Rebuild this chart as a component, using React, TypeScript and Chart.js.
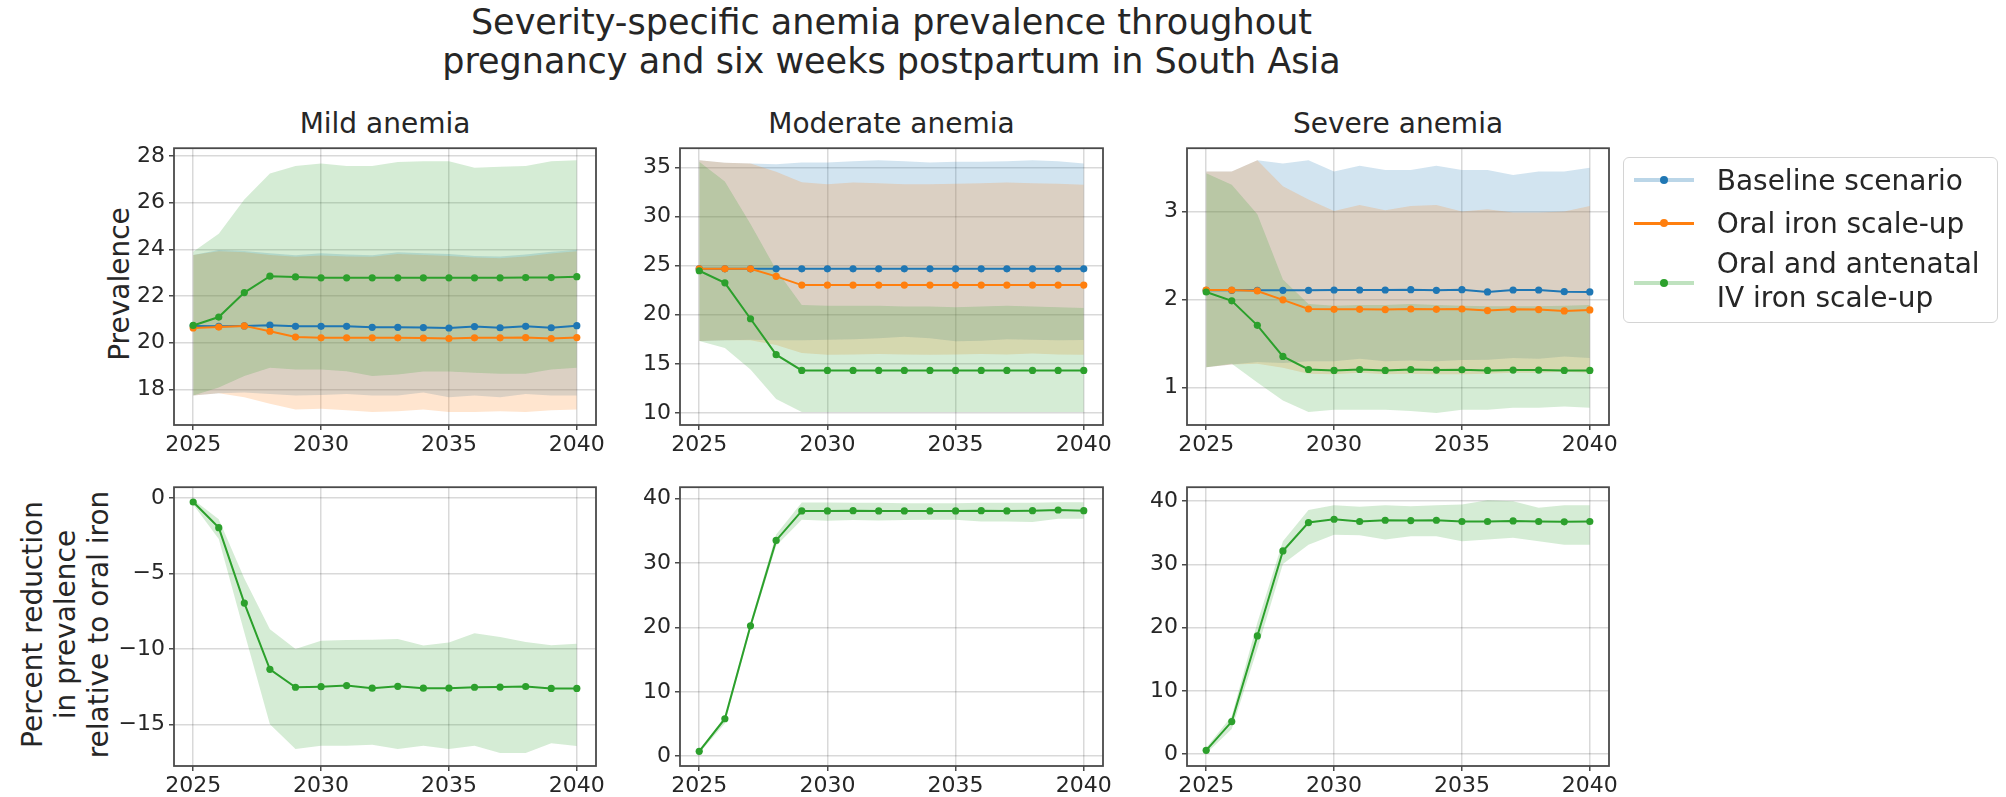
import React, { useEffect, useRef } from "react";
import { Chart, registerables } from "chart.js";

Chart.register(...registerables);

// ---------------------------------------------------------------------------
// Data
// ---------------------------------------------------------------------------
const years = [2025, 2026, 2027, 2028, 2029, 2030, 2031, 2032, 2033, 2034, 2035, 2036, 2037, 2038, 2039, 2040];
const yearTicks = [2025, 2030, 2035, 2040];

const seriesNames = ["Baseline scenario", "Oral iron scale-up", "Oral and antenatal\nIV iron scale-up"];
const seriesColors = ["#1f77b4", "#ff7f0e", "#2ca02c"];

const panelTitles = ["Mild anemia", "Moderate anemia", "Severe anemia"];
const mainTitle = ["Severity-specific anemia prevalence throughout", "pregnancy and six weeks postpartum in South Asia"];
const prevalenceLabel = "Prevalence";
const reductionLabel = ["Percent reduction", "in prevalence", "relative to oral iron"];

// Mild anemia prevalence
const mildTicks = [18, 20, 22, 24, 26, 28];
const mildBaseline = [20.72, 20.70, 20.72, 20.75, 20.70, 20.70, 20.70, 20.66, 20.66, 20.65, 20.63, 20.69, 20.64, 20.70, 20.64, 20.73];
const mildBaselineLow = [17.73, 17.83, 17.86, 17.80, 17.73, 17.76, 17.80, 17.73, 17.73, 17.86, 17.66, 17.73, 17.66, 17.80, 17.73, 17.73];
const mildBaselineHigh = [23.76, 23.97, 23.93, 23.83, 23.75, 23.83, 23.78, 23.75, 23.88, 23.83, 23.80, 23.72, 23.70, 23.78, 23.90, 23.97];
const mildOral = [20.63, 20.67, 20.72, 20.49, 20.24, 20.21, 20.21, 20.21, 20.21, 20.20, 20.18, 20.21, 20.21, 20.22, 20.18, 20.22];
const mildOralLow = [17.73, 17.83, 17.66, 17.38, 17.13, 17.17, 17.10, 17.03, 17.06, 17.13, 17.03, 17.03, 17.06, 17.03, 17.10, 17.13];
const mildOralHigh = [23.76, 23.92, 23.88, 23.76, 23.68, 23.74, 23.70, 23.68, 23.80, 23.76, 23.72, 23.65, 23.62, 23.70, 23.82, 23.92];
const mildIV = [20.74, 21.10, 22.15, 22.85, 22.82, 22.78, 22.78, 22.78, 22.78, 22.78, 22.78, 22.78, 22.78, 22.79, 22.79, 22.83];
const mildIVLow = [17.73, 18.08, 18.57, 18.92, 18.85, 18.85, 18.78, 18.57, 18.64, 18.76, 18.76, 18.71, 18.67, 18.67, 18.85, 18.92];
const mildIVHigh = [23.90, 24.67, 26.14, 27.26, 27.58, 27.68, 27.58, 27.58, 27.75, 27.78, 27.78, 27.50, 27.54, 27.58, 27.78, 27.82];

// Moderate anemia prevalence
const moderateTicks = [10, 15, 20, 25, 30, 35];
const moderateBaseline = [24.68, 24.68, 24.68, 24.68, 24.68, 24.68, 24.68, 24.68, 24.68, 24.68, 24.68, 24.68, 24.68, 24.68, 24.68, 24.68];
const moderateBaselineLow = [17.32, 17.40, 17.45, 17.40, 17.40, 17.45, 17.50, 17.60, 17.76, 17.60, 17.30, 17.35, 17.50, 17.45, 17.40, 17.42];
const moderateBaselineHigh = [35.73, 35.47, 35.40, 35.33, 35.50, 35.50, 35.63, 35.73, 35.63, 35.50, 35.57, 35.57, 35.63, 35.73, 35.63, 35.40];
const moderateOral = [24.68, 24.68, 24.68, 23.91, 23.02, 23.02, 23.02, 23.02, 23.02, 23.02, 23.02, 23.02, 23.02, 23.02, 23.02, 23.02];
const moderateOralLow = [17.32, 17.40, 17.40, 16.92, 16.09, 15.93, 15.96, 16.00, 15.96, 15.93, 15.96, 16.00, 15.96, 16.05, 15.96, 15.93];
const moderateOralHigh = [35.73, 35.47, 35.40, 34.57, 33.50, 33.30, 33.47, 33.40, 33.30, 33.30, 33.33, 33.40, 33.47, 33.40, 33.33, 33.24];
const moderateIV = [24.48, 23.25, 19.59, 15.93, 14.33, 14.33, 14.33, 14.33, 14.33, 14.33, 14.33, 14.33, 14.33, 14.33, 14.33, 14.33];
const moderateIVLow = [17.32, 16.60, 14.43, 11.43, 10.10, 10.10, 10.10, 10.10, 10.10, 10.10, 10.10, 10.10, 10.10, 10.10, 10.10, 10.10];
const moderateIVHigh = [35.57, 33.57, 29.24, 24.58, 20.99, 20.92, 20.92, 20.92, 20.85, 20.85, 20.75, 20.85, 20.92, 20.85, 20.75, 20.69];

// Severe anemia prevalence
const severeTicks = [1, 2, 3];
const severeBaseline = [2.104, 2.104, 2.104, 2.104, 2.104, 2.108, 2.108, 2.108, 2.112, 2.104, 2.112, 2.086, 2.108, 2.108, 2.089, 2.086];
const severeBaselineLow = [1.230, 1.260, 1.290, 1.279, 1.297, 1.297, 1.327, 1.297, 1.305, 1.297, 1.312, 1.316, 1.335, 1.327, 1.353, 1.335];
const severeBaselineHigh = [3.454, 3.454, 3.584, 3.546, 3.584, 3.454, 3.520, 3.472, 3.472, 3.520, 3.472, 3.472, 3.416, 3.454, 3.454, 3.498];
const severeOral = [2.108, 2.108, 2.097, 1.996, 1.892, 1.888, 1.888, 1.885, 1.892, 1.888, 1.892, 1.874, 1.888, 1.885, 1.870, 1.881];
const severeOralLow = [1.230, 1.260, 1.268, 1.223, 1.156, 1.149, 1.167, 1.149, 1.156, 1.149, 1.149, 1.156, 1.167, 1.167, 1.178, 1.167];
const severeOralHigh = [3.454, 3.454, 3.584, 3.286, 3.138, 3.007, 3.074, 3.015, 3.063, 3.074, 3.000, 3.026, 2.989, 2.989, 3.000, 3.063];
const severeIV = [2.085, 1.985, 1.706, 1.353, 1.204, 1.193, 1.204, 1.193, 1.204, 1.197, 1.201, 1.193, 1.197, 1.197, 1.193, 1.193];
const severeIVLow = [1.230, 1.268, 1.056, 0.851, 0.721, 0.747, 0.747, 0.747, 0.732, 0.710, 0.747, 0.747, 0.770, 0.770, 0.784, 0.770];
const severeIVHigh = [3.435, 3.305, 2.970, 2.227, 1.948, 1.929, 1.937, 1.937, 1.948, 1.937, 1.929, 1.922, 1.922, 1.922, 1.929, 1.937];

// Percent reduction relative to oral iron (IV scale-up)
const mildReductionTicks = [-15, -10, -5, 0];
const mildReduction = [-0.26, -1.96, -6.96, -11.35, -12.54, -12.50, -12.43, -12.60, -12.48, -12.60, -12.60, -12.54, -12.53, -12.49, -12.62, -12.62];
const mildReductionLow = [-0.43, -2.72, -8.91, -15.00, -16.63, -16.41, -16.41, -16.35, -16.63, -16.41, -16.63, -16.41, -16.90, -16.90, -16.26, -16.43];
const mildReductionHigh = [-0.10, -1.41, -5.33, -8.70, -10.00, -9.46, -9.41, -9.39, -9.35, -9.78, -9.57, -8.96, -9.21, -9.54, -9.75, -9.65];

const moderateReductionTicks = [0, 10, 20, 30, 40];
const moderateReduction = [0.76, 5.82, 20.25, 33.50, 38.08, 38.08, 38.13, 38.08, 38.08, 38.08, 38.08, 38.13, 38.08, 38.13, 38.23, 38.13];
const moderateReductionLow = [0.50, 5.06, 19.75, 32.66, 36.71, 36.56, 36.66, 36.61, 36.66, 36.71, 36.71, 36.46, 36.46, 36.35, 36.86, 36.86];
const moderateReductionHigh = [1.00, 6.08, 20.76, 34.43, 39.39, 39.39, 39.34, 39.34, 39.29, 39.29, 39.29, 39.34, 39.34, 39.34, 39.44, 39.44];

const severeReductionTicks = [0, 10, 20, 30, 40];
const severeReduction = [0.62, 5.16, 18.68, 32.10, 36.59, 37.11, 36.75, 36.95, 36.90, 36.95, 36.75, 36.75, 36.85, 36.75, 36.70, 36.75];
const severeReductionLow = [0.10, 3.97, 16.61, 30.04, 33.08, 34.68, 34.58, 33.91, 34.43, 34.43, 33.65, 33.91, 34.17, 33.65, 33.08, 33.08];
const severeReductionHigh = [1.03, 6.04, 20.75, 33.65, 38.55, 39.33, 39.07, 39.33, 39.17, 39.33, 39.43, 40.10, 39.95, 38.92, 39.33, 39.33];

// ---------------------------------------------------------------------------
// Layout and style
// ---------------------------------------------------------------------------
const FONT = "'DejaVu Sans', 'Liberation Sans', sans-serif";
const TEXT_COLOR = "#262626";
const GRID_COLOR = "rgba(0,0,0,0.15)";
const FRAME_COLOR = "#4a4a4a";
const TICK_FONT = 22;

const Y_BOX = 80; // width reserved for the y tick labels
const X_BOX = 45; // height reserved for the x tick labels
const PAD_TOP = 12;
const PAD_RIGHT = 30;

type Series = { mean: number[]; low: number[]; high: number[]; colorIndex: number };
type PanelSpec = {
  frame: { left: number; top: number; right: number; bottom: number };
  yMin: number;
  yMax: number;
  yTicks: number[];
  series: Series[];
};

const topRow = { top: 143, bottom: 425 };
const bottomRow = { top: 482, bottom: 766 };
const columns = [
  { left: 174, right: 596 },
  { left: 680, right: 1103 },
  { left: 1187, right: 1609 },
];

const panels: PanelSpec[] = [
  {
    frame: { ...columns[0], ...topRow },
    yMin: 16.47,
    yMax: 28.34,
    yTicks: mildTicks,
    series: [
      { mean: mildBaseline, low: mildBaselineLow, high: mildBaselineHigh, colorIndex: 0 },
      { mean: mildOral, low: mildOralLow, high: mildOralHigh, colorIndex: 1 },
      { mean: mildIV, low: mildIVLow, high: mildIVHigh, colorIndex: 2 },
    ],
  },
  {
    frame: { ...columns[1], ...topRow },
    yMin: 8.77,
    yMax: 36.96,
    yTicks: moderateTicks,
    series: [
      { mean: moderateBaseline, low: moderateBaselineLow, high: moderateBaselineHigh, colorIndex: 0 },
      { mean: moderateOral, low: moderateOralLow, high: moderateOralHigh, colorIndex: 1 },
      { mean: moderateIV, low: moderateIVLow, high: moderateIVHigh, colorIndex: 2 },
    ],
  },
  {
    frame: { ...columns[2], ...topRow },
    yMin: 0.573,
    yMax: 3.72,
    yTicks: severeTicks,
    series: [
      { mean: severeBaseline, low: severeBaselineLow, high: severeBaselineHigh, colorIndex: 0 },
      { mean: severeOral, low: severeOralLow, high: severeOralHigh, colorIndex: 1 },
      { mean: severeIV, low: severeIVLow, high: severeIVHigh, colorIndex: 2 },
    ],
  },
  {
    frame: { ...columns[0], ...bottomRow },
    yMin: -17.76,
    yMax: 0.72,
    yTicks: mildReductionTicks,
    series: [{ mean: mildReduction, low: mildReductionLow, high: mildReductionHigh, colorIndex: 2 }],
  },
  {
    frame: { ...columns[1], ...bottomRow },
    yMin: -1.52,
    yMax: 41.77,
    yTicks: moderateReductionTicks,
    series: [{ mean: moderateReduction, low: moderateReductionLow, high: moderateReductionHigh, colorIndex: 2 }],
  },
  {
    frame: { ...columns[2], ...bottomRow },
    yMin: -1.86,
    yMax: 42.17,
    yTicks: severeReductionTicks,
    series: [{ mean: severeReduction, low: severeReductionLow, high: severeReductionHigh, colorIndex: 2 }],
  },
];

function withAlpha(hex: string, a: number) {
  const n = parseInt(hex.slice(1), 16);
  return `rgba(${(n >> 16) & 255},${(n >> 8) & 255},${n & 255},${a})`;
}

const toPoints = (values: number[]) => years.map((x, i) => ({ x, y: values[i] }));

const formatTick = (v: number) => (v < 0 ? "\u2212" + Math.abs(v) : String(v));

// Closed box around the plotting area, drawn over the data
const framePlugin = {
  id: "axesFrame",
  afterDatasetsDraw(chart: any) {
    const { ctx, chartArea } = chart;
    ctx.save();
    ctx.strokeStyle = FRAME_COLOR;
    ctx.lineWidth = 1.8;
    ctx.strokeRect(chartArea.left, chartArea.top, chartArea.right - chartArea.left, chartArea.bottom - chartArea.top);
    ctx.restore();
  },
};

function Panel({ spec }: { spec: PanelSpec }) {
  const ref = useRef<HTMLCanvasElement>(null);
  const { frame } = spec;
  const width = frame.right - frame.left + Y_BOX + PAD_RIGHT;
  const height = frame.bottom - frame.top + PAD_TOP + X_BOX;

  useEffect(() => {
    if (!ref.current) return;
    const datasets: any[] = [];
    // uncertainty bands: upper bound filled down to the following lower bound
    spec.series.forEach((s) => {
      const c = seriesColors[s.colorIndex];
      const order = 30 - s.colorIndex * 5;
      datasets.push({
        data: toPoints(s.high),
        fill: "+1",
        backgroundColor: withAlpha(c, 0.2),
        borderWidth: 0,
        pointRadius: 0,
        order,
      });
      datasets.push({
        data: toPoints(s.low),
        fill: false,
        borderWidth: 0,
        pointRadius: 0,
        order,
      });
    });
    // central estimates
    spec.series.forEach((s) => {
      const c = seriesColors[s.colorIndex];
      datasets.push({
        data: toPoints(s.mean),
        fill: false,
        borderColor: c,
        backgroundColor: c,
        borderWidth: 2,
        pointRadius: 3.6,
        pointBorderWidth: 0,
        pointBackgroundColor: c,
        tension: 0,
        order: 5 - s.colorIndex,
      });
    });

    const chart = new Chart(ref.current, {
      type: "line",
      data: { datasets },
      plugins: [framePlugin],
      options: {
        animation: false,
        responsive: false,
        maintainAspectRatio: false,
        devicePixelRatio: 1,
        events: [],
        layout: { padding: { left: 0, top: PAD_TOP, right: PAD_RIGHT, bottom: 0 } },
        plugins: {
          legend: { display: false },
          tooltip: { enabled: false },
          title: { display: false },
        },
        scales: {
          x: {
            type: "linear",
            min: 2024.25,
            max: 2040.75,
            afterBuildTicks: (scale: any) => {
              scale.ticks = yearTicks.map((value) => ({ value }));
            },
            afterFit: (scale: any) => {
              scale.height = X_BOX;
            },
            ticks: {
              color: TEXT_COLOR,
              font: { family: FONT, size: TICK_FONT },
              padding: 2,
              maxRotation: 0,
              autoSkip: false,
              callback: (v: any) => String(v),
            },
            grid: {
              color: GRID_COLOR,
              lineWidth: 1.5,
              tickColor: FRAME_COLOR,
              tickLength: 5,
              tickWidth: 1.5,
            },
            border: { display: false },
          },
          y: {
            type: "linear",
            min: spec.yMin,
            max: spec.yMax,
            afterBuildTicks: (scale: any) => {
              scale.ticks = spec.yTicks.map((value) => ({ value }));
            },
            afterFit: (scale: any) => {
              scale.width = Y_BOX;
            },
            ticks: {
              color: TEXT_COLOR,
              font: { family: FONT, size: TICK_FONT },
              padding: 4,
              autoSkip: false,
              callback: (v: any) => formatTick(Number(v)),
            },
            grid: {
              color: GRID_COLOR,
              lineWidth: 1.5,
              tickColor: FRAME_COLOR,
              tickLength: 5,
              tickWidth: 1.5,
            },
            border: { display: false },
          },
        },
      } as any,
    });
    return () => chart.destroy();
  }, [spec]);

  return (
    <canvas
      ref={ref}
      width={width}
      height={height}
      style={{
        position: "absolute",
        left: frame.left - Y_BOX,
        top: frame.top - PAD_TOP,
        width,
        height,
      }}
    />
  );
}

// place a line of text so that its baseline sits at the given y
function baselineTop(baseline: number, size: number, lineHeight: number) {
  return baseline - ((lineHeight - 1.164 * size) / 2 + 0.928 * size);
}

const textBase: React.CSSProperties = {
  position: "absolute",
  fontFamily: FONT,
  color: TEXT_COLOR,
  whiteSpace: "pre",
};

function Legend() {
  const left = 1623;
  const top = 157;
  const handleY = [180, 223, 283];
  const textBaselines = [190, 233, 273.5];
  return (
    <>
      <div
        style={{
          position: "absolute",
          left,
          top,
          width: 375,
          height: 166,
          boxSizing: "border-box",
          border: "1.5px solid #d4d4d4",
          borderRadius: 6,
          background: "rgba(255,255,255,0.8)",
        }}
      />
      {seriesNames.map((name, i) => {
        const c = seriesColors[i];
        const faint = i !== 1;
        return (
          <React.Fragment key={name}>
            <div
              style={{
                position: "absolute",
                left: 1634,
                top: handleY[i] - (faint ? 2 : 1.5),
                width: 60,
                height: faint ? 4 : 3,
                background: faint ? withAlpha(c, 0.3) : c,
              }}
            />
            <div
              style={{
                position: "absolute",
                left: 1664 - 4,
                top: handleY[i] - 4,
                width: 8,
                height: 8,
                borderRadius: 4,
                background: c,
              }}
            />
            <div
              style={{
                ...textBase,
                left: 1716.7,
                top: baselineTop(textBaselines[i], 28, 33.5),
                fontSize: 28,
                lineHeight: "33.5px",
              }}
            >
              {name}
            </div>
          </React.Fragment>
        );
      })}
    </>
  );
}

export default function App() {
  const titleCenter = (columns[1].left + columns[1].right) / 2;
  const topMid = (topRow.top + topRow.bottom) / 2;
  const bottomMid = (bottomRow.top + bottomRow.bottom) / 2;
  return (
    <div
      style={{
        position: "absolute",
        left: 0,
        top: 0,
        width: 2006,
        height: 797,
        overflow: "hidden",
        background: "#ffffff",
      }}
    >
      <div
        style={{
          ...textBase,
          left: titleCenter - 600,
          width: 1200,
          top: baselineTop(35, 35, 39),
          fontSize: 35,
          lineHeight: "39px",
          textAlign: "center",
        }}
      >
        {mainTitle.join("\n")}
      </div>

      {panelTitles.map((t, i) => (
        <div
          key={t}
          style={{
            ...textBase,
            left: columns[i].left,
            width: columns[i].right - columns[i].left,
            top: baselineTop(134, 28, 34),
            fontSize: 28,
            lineHeight: "34px",
            textAlign: "center",
          }}
        >
          {t}
        </div>
      ))}

      <div
        style={{
          ...textBase,
          left: 120.3 - 200,
          top: topMid - 17,
          width: 400,
          height: 34,
          fontSize: 28,
          lineHeight: "34px",
          textAlign: "center",
          transform: "rotate(-90deg)",
        }}
      >
        {prevalenceLabel}
      </div>

      <div
        style={{
          ...textBase,
          left: 64.5 - 200,
          top: bottomMid - 49.5,
          width: 400,
          height: 99,
          fontSize: 28,
          lineHeight: "33px",
          textAlign: "center",
          transform: "rotate(-90deg)",
        }}
      >
        {reductionLabel.join("\n")}
      </div>

      {panels.map((p, i) => (
        <Panel key={i} spec={p} />
      ))}

      <Legend />
    </div>
  );
}
